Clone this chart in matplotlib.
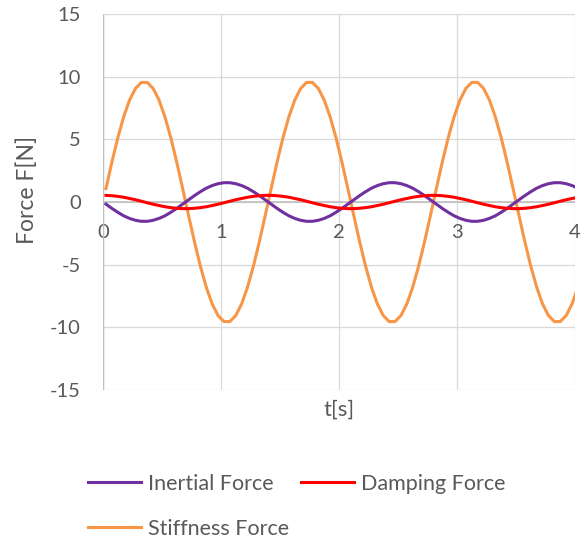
import matplotlib
matplotlib.use("Agg")
import matplotlib.pyplot as plt

# ---- data ----
time_s = [
    0.025, 0.075, 0.125, 0.175, 0.225, 0.275, 0.325, 0.375, 0.425, 0.475,
    0.525, 0.575, 0.625, 0.675, 0.725, 0.775, 0.825, 0.875, 0.925, 0.975,
    1.025, 1.075, 1.125, 1.175, 1.225, 1.275, 1.325, 1.375, 1.425, 1.475,
    1.525, 1.575, 1.625, 1.675, 1.725, 1.775, 1.825, 1.875, 1.925, 1.975,
    2.025, 2.075, 2.125, 2.175, 2.225, 2.275, 2.325, 2.375, 2.425, 2.475,
    2.525, 2.575, 2.625, 2.675, 2.725, 2.775, 2.825, 2.875, 2.925, 2.975,
    3.025, 3.075, 3.125, 3.175, 3.225, 3.275, 3.325, 3.375, 3.425, 3.475,
    3.525, 3.575, 3.625, 3.675, 3.725, 3.775, 3.825, 3.875, 3.925, 3.975,
    4.025,
]

inertial_force = [
    -0.17, -0.51, -0.82, -1.10, -1.31, -1.46, -1.54, -1.54, -1.46, -1.31,
    -1.10, -0.82, -0.51, -0.17, 0.17, 0.51, 0.82, 1.10, 1.31, 1.46,
    1.54, 1.54, 1.46, 1.31, 1.10, 0.82, 0.51, 0.17,
    -0.17, -0.51, -0.82, -1.10, -1.31, -1.46, -1.54, -1.54, -1.46, -1.31,
    -1.10, -0.82, -0.51, -0.17, 0.17, 0.51, 0.82, 1.10, 1.31, 1.46,
    1.54, 1.54, 1.46, 1.31, 1.10, 0.82, 0.51, 0.17,
    -0.17, -0.51, -0.82, -1.10, -1.31, -1.46, -1.54, -1.54, -1.46, -1.31,
    -1.10, -0.82, -0.51, -0.17, 0.17, 0.51, 0.82, 1.10, 1.31, 1.46,
    1.54, 1.54, 1.46, 1.31, 1.10,
]

damping_force = [
    0.53, 0.50, 0.45, 0.38, 0.28, 0.18, 0.06, -0.06, -0.18, -0.28,
    -0.38, -0.45, -0.50, -0.53, -0.53, -0.50, -0.45, -0.38, -0.28, -0.18,
    -0.06, 0.06, 0.18, 0.28, 0.38, 0.45, 0.50, 0.53,
    0.53, 0.50, 0.45, 0.38, 0.28, 0.18, 0.06, -0.06, -0.18, -0.28,
    -0.38, -0.45, -0.50, -0.53, -0.53, -0.50, -0.45, -0.38, -0.28, -0.18,
    -0.06, 0.06, 0.18, 0.28, 0.38, 0.45, 0.50, 0.53,
    0.53, 0.50, 0.45, 0.38, 0.28, 0.18, 0.06, -0.06, -0.18, -0.28,
    -0.38, -0.45, -0.50, -0.53, -0.53, -0.50, -0.45, -0.38, -0.28, -0.18,
    -0.06, 0.06, 0.18, 0.28, 0.38,
]

stiffness_force = [
    1.07, 3.17, 5.11, 6.79, 8.13, 9.06, 9.54, 9.54, 9.06, 8.13,
    6.79, 5.11, 3.17, 1.07, -1.07, -3.17, -5.11, -6.79, -8.13, -9.06,
    -9.54, -9.54, -9.06, -8.13, -6.79, -5.11, -3.17, -1.07,
    1.07, 3.17, 5.11, 6.79, 8.13, 9.06, 9.54, 9.54, 9.06, 8.13,
    6.79, 5.11, 3.17, 1.07, -1.07, -3.17, -5.11, -6.79, -8.13, -9.06,
    -9.54, -9.54, -9.06, -8.13, -6.79, -5.11, -3.17, -1.07,
    1.07, 3.17, 5.11, 6.79, 8.13, 9.06, 9.54, 9.54, 9.06, 8.13,
    6.79, 5.11, 3.17, 1.07, -1.07, -3.17, -5.11, -6.79, -8.13, -9.06,
    -9.54, -9.54, -9.06, -8.13, -6.79,
]

series_names = ["Inertial Force", "Damping Force", "Stiffness Force"]
x_ticks = [0, 1, 2, 3, 4]
x_tick_labels = ["0", "1", "2", "3", "4"]
y_ticks = [-15, -10, -5, 0, 5, 10, 15]
y_tick_labels = ["-15", "-10", "-5", "0", "5", "10", "15"]
x_label = "t[s]"
y_label = "Force F[N]"

# ---- style ----
FONT = ["Lato", "DejaVu Sans"]
TXT = "#595959"
GRID = "#d9d9d9"
plt.rcParams["font.family"] = FONT

fig = plt.figure(figsize=(5.84, 5.40), dpi=100)
ax = fig.add_axes([103 / 584, 1 - 390 / 540, (575 - 103) / 584, (390 - 14) / 540])

ax.set_xlim(0, 4)
ax.set_ylim(-15, 15)
ax.set_xticks(x_ticks)
ax.set_xticklabels(x_tick_labels)
ax.set_yticks(y_ticks)
ax.set_yticklabels(y_tick_labels)

for s in ax.spines.values():
    s.set_visible(False)
ax.spines["bottom"].set_position(("data", 0))

ax.grid(True, color=GRID, lw=0.9)
ax.set_axisbelow(True)
ax.axhline(0, color="#bfbfbf", lw=1.2, zorder=1)
ax.axvline(0, color="#bfbfbf", lw=1.0, zorder=1)

ax.tick_params(axis="both", length=0, labelsize=14.5, labelcolor=TXT)
ax.tick_params(axis="x", pad=16)
ax.tick_params(axis="y", pad=16)

l_i, = ax.plot(time_s, inertial_force, color="#7030A0", lw=2.2, zorder=3)
l_d, = ax.plot(time_s, damping_force, color="#FF0000", lw=2.2, zorder=4)
l_s, = ax.plot(time_s, stiffness_force, color="#F79646", lw=2.2, zorder=2)

fig.text(27 / 584, 1 - 190 / 540, y_label, fontsize=16.5, color=TXT,
         ha="center", va="center", rotation=90)
fig.text(339 / 584, 1 - 410 / 540, x_label, fontsize=16, color=TXT,
         ha="center", va="center")

leg = fig.legend([l_i, l_s, l_d], [series_names[0], series_names[2], series_names[1]],
                 ncol=2, loc="upper left", bbox_to_anchor=(88 / 584, 1 - 474 / 540),
                 frameon=False, fontsize=15.5, handlelength=2.45, handletextpad=0.33,
                 columnspacing=0.55, labelspacing=1.15, borderaxespad=0, borderpad=0)
for t in leg.get_texts():
    t.set_color(TXT)

fig.savefig("out.png", dpi=100)
